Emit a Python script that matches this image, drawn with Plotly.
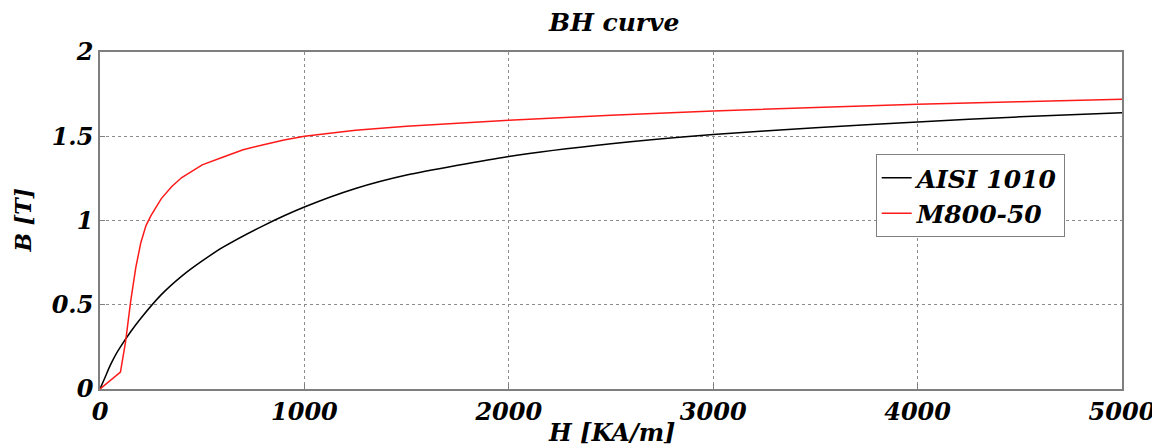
import plotly.graph_objects as go

# AISI 1010 BH curve
h_aisi = [0, 25, 50, 75, 100, 150, 200, 300, 400, 500, 600, 800, 1000, 1250, 1500, 2000, 2500, 3000, 3500, 4000, 4500, 5000]
b_aisi = [0, 0.07, 0.14, 0.20, 0.25, 0.34, 0.42, 0.56, 0.67, 0.76, 0.84, 0.97, 1.08, 1.19, 1.27, 1.38, 1.455, 1.51, 1.55, 1.585, 1.615, 1.64]

# M800-50 BH curve
h_m800 = [0, 100, 125, 150, 175, 200, 225, 250, 300, 350, 400, 450, 500, 600, 700, 800, 900, 1000, 1250, 1500, 2000, 2500, 3000, 3500, 4000, 4500, 5000]
b_m800 = [0, 0.10, 0.28, 0.52, 0.72, 0.87, 0.97, 1.03, 1.13, 1.20, 1.255, 1.295, 1.33, 1.375, 1.42, 1.45, 1.478, 1.50, 1.535, 1.56, 1.595, 1.625, 1.65, 1.67, 1.69, 1.705, 1.72]

x_ticks = [0, 1000, 2000, 3000, 4000, 5000]
y_ticks = [0, 0.5, 1, 1.5, 2]
y_tick_text = ["0", "0.5", "1", "1.5", "2"]

FONT = "DejaVu Serif"

fig = go.Figure()
fig.add_trace(go.Scatter(x=h_aisi, y=b_aisi, mode="lines", name="AISI 1010",
                         line=dict(color="black", width=1.5, shape="spline", smoothing=0.6)))
fig.add_trace(go.Scatter(x=h_m800, y=b_m800, mode="lines", name="M800-50",
                         line=dict(color="#ff1a1a", width=1.5)))

axis_common = dict(showline=True, linecolor="#7f7f7f", linewidth=1.5, mirror=True,
                   showgrid=True, gridcolor="#8c8c8c", gridwidth=1, griddash="dot",
                   zeroline=False, ticks="inside", ticklen=5, tickcolor="#7f7f7f",
                   automargin=False,
                   tickfont=dict(family=FONT, size=24, color="black", weight="bold", style="italic"))

fig.update_layout(
    width=1152, height=438,
    margin=dict(l=92, r=38, t=44, b=57),
    paper_bgcolor="white", plot_bgcolor="white",
    xaxis=dict(range=[0, 5000], tickvals=x_ticks, ticktext=[str(v) for v in x_ticks], **axis_common),
    yaxis=dict(range=[0, 2], tickvals=y_ticks, ticktext=y_tick_text, **axis_common),
    legend=dict(x=0.759, y=0.697, xanchor="left", yanchor="top",
                bgcolor="white", bordercolor="#7f7f7f", borderwidth=1,
                font=dict(family=FONT, size=25, color="black", weight="bold", style="italic"),
                itemwidth=30, tracegroupgap=0),
    showlegend=True,
)

fig.add_annotation(text="BH curve", xref="paper", yref="paper", x=0.502, y=1 + (52 - 22) / 337,
                   xanchor="center", yanchor="middle", showarrow=False,
                   font=dict(family=FONT, size=25, color="black", weight="bold", style="italic"))
fig.add_annotation(text="H [KA/m]", xref="paper", yref="paper", x=0.5, y=-(432 - 389) / 337,
                   xanchor="center", yanchor="middle", showarrow=False,
                   font=dict(family=FONT, size=24, color="black", weight="bold", style="italic"))
fig.add_annotation(text="B [T]", xref="paper", yref="paper", x=(22 - 100) / 1022, y=0.5,
                   xanchor="center", yanchor="middle", textangle=-90, showarrow=False,
                   font=dict(family=FONT, size=22, color="black", weight="bold", style="italic"))

fig.write_html("out.html")
